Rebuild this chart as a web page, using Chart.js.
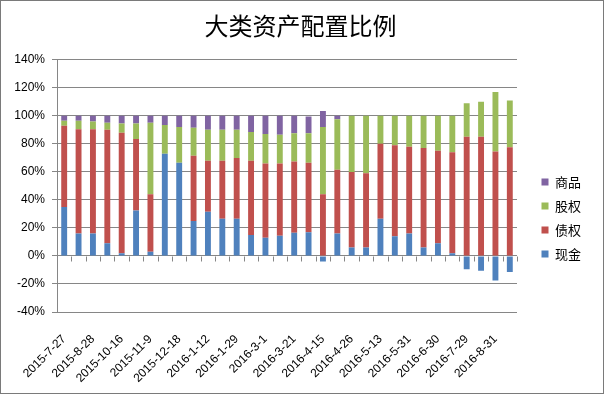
<!DOCTYPE html>
<html>
<head>
<meta charset="utf-8">
<script src="https://cdn.jsdelivr.net/npm/chart.js@4/dist/chart.umd.min.js"></script>
<style>
html,body{margin:0;padding:0;background:#fff;}
canvas{display:block;}
</style>
</head>
<body>
<canvas id="c" width="604" height="394"></canvas>
<script>
// ---- data ----
const dateLabels = [
  '2015-7-27','', '2015-8-28','', '2015-10-16','', '2015-11-9','',
  '2015-12-18','', '2016-1-12','', '2016-1-29','', '2016-3-1','',
  '2016-3-21','', '2016-4-15','', '2016-4-26','', '2016-5-13','',
  '2016-5-31','', '2016-6-30','', '2016-7-29','', '2016-8-31',''
];
const cash = [35,16,16,9,2,32.5,3,73,66.5,25,31.5,26.5,26.5,15,13,14.5,16.5,17,-4,16,6,6,26.5,14,16,6,9,2,-9.5,-10.5,-17.5,-11.5];
const bond = [58,74.5,74.5,81,86,51,41,0,0,46.5,36.5,41.5,43.5,53,53,51.5,51,49.5,44,45.5,54,53,53.5,65,62,71,66,72,85,85,74.5,77.5];
const equity = [3.5,6,5.5,5,6.5,11,51,20.5,25.5,20,22,22,20,20.5,21,20.5,20,21,48,36,40,41,20,21,22,23,25,26,24,25,42.5,33.5];
const commodity = [3.5,3.5,4,5,5.5,5.5,5,6.5,8,8.5,10,10,10,11.5,13,13.5,12.5,12,11.5,2.5,0,0,0,0,0,0,0,0,0,0,0,0];
const seriesNames = ['现金','债权','股权','商品'];
const titleText = '大类资产配置比例';
const yMin = -40, yMax = 140, yStep = 20;

const colors = ['#4F81BD','#C0504D','#9BBB59','#8064A2'];
const gridColor = '#868686';

const borderPlugin = {
  id: 'outerBorder',
  afterDraw(chart) {
    const ctx = chart.ctx;
    ctx.save();
    ctx.strokeStyle = '#7a7a7a';
    ctx.lineWidth = 1;
    ctx.strokeRect(0.5, 0.5, chart.width - 1, chart.height - 1);
    // category tick marks on the zero line
    const xs = chart.scales.x, ys = chart.scales.y;
    const y0 = Math.round(ys.getPixelForValue(0)) + 0.5;
    ctx.strokeStyle = gridColor;
    ctx.beginPath();
    const n = dateLabels.length;
    const step = (xs.right - xs.left) / n;
    for (let i = 0; i <= n; i++) {
      const x = Math.round(xs.left + i * step) + 0.5;
      ctx.moveTo(x, y0);
      ctx.lineTo(x, y0 + 5);
    }
    ctx.stroke();
    ctx.restore();
  }
};

new Chart(document.getElementById('c'), {
  type: 'bar',
  data: {
    labels: dateLabels,
    datasets: [cash, bond, equity, commodity].map((d, i) => ({
      label: seriesNames[i],
      data: d,
      backgroundColor: colors[i],
      borderWidth: 0,
      barPercentage: 0.41,
      categoryPercentage: 1.0,
      stack: 's'
    }))
  },
  options: {
    responsive: false,
    devicePixelRatio: 1,
    animation: false,
    layout: { padding: { left: 10, right: 13, top: 0, bottom: 0 } },
    plugins: {
      title: {
        display: true,
        text: titleText,
        color: '#000',
        font: { family: '"Noto Sans CJK SC", sans-serif', size: 24, weight: 'normal' },
        padding: { top: 11, bottom: 20 }
      },
      legend: {
        position: 'right',
        reverse: true,
        title: { display: true, text: '', font: { size: 12, lineHeight: 1 }, padding: { top: 0, bottom: 30 } },
        labels: {
          boxWidth: 7,
          boxHeight: 7,
          padding: 11,
          color: '#000',
          font: { family: '"Noto Sans CJK SC", sans-serif', size: 13 }
        }
      },
      tooltip: { enabled: false }
    },
    scales: {
      x: {
        stacked: true,
        grid: { display: false },
        border: { display: false },
        ticks: {
          autoSkip: false,
          maxRotation: 45,
          minRotation: 45,
          padding: 12,
          color: '#000',
          font: { family: '"Liberation Sans", Arial, sans-serif', size: 12 },
          callback: (v, i) => dateLabels[i]
        },
        afterFit(s) { s.height = 82; }
      },
      y: {
        stacked: true,
        min: yMin,
        max: yMax,
        ticks: {
          stepSize: yStep,
          padding: 7,
          color: '#000',
          font: { family: '"Liberation Sans", Arial, sans-serif', size: 12 },
          callback: v => v + '%'
        },
        grid: { color: gridColor, lineWidth: 1, tickLength: 5, drawTicks: true },
        border: { display: true, color: gridColor, width: 1 },
        afterFit(s) { s.width = 47; }
      },
      yR: {
        type: 'linear',
        axis: 'y',
        position: 'right',
        display: true,
        grid: { display: false, drawTicks: false },
        border: { display: false },
        ticks: { display: false },
        afterFit(s) { s.width = 13.5; }
      }
    }
  },
  plugins: [borderPlugin]
});
</script>
</body>
</html>
